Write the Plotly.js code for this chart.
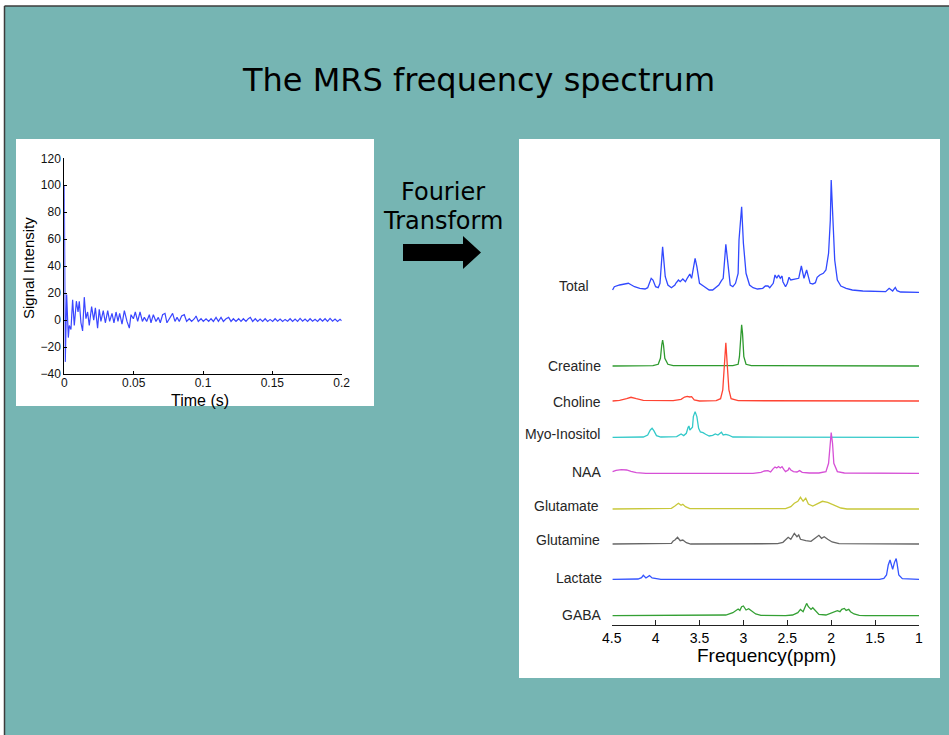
<!DOCTYPE html>
<html>
<head>
<meta charset="utf-8">
<script src="https://cdn.plot.ly/plotly-3.0.1.min.js"></script>
<style>
  html, body { margin: 0; padding: 0; background: #ffffff; }
  #chart { width: 949px; height: 735px; }
</style>
</head>
<body>
<div id="chart"></div>
<script>
// ---- Free induction decay (time domain) ----
const fidTime = [
  0, 0.0007, 0.0017, 0.0029, 0.0036, 0.0048, 0.0060, 0.0072, 0.0087, 0.0099,
  0.0108, 0.0120, 0.0132, 0.0144, 0.0156, 0.0168, 0.0180, 0.0197, 0.0212, 0.0224,
  0.0240, 0.0252, 0.0264, 0.0281, 0.0296, 0.0313, 0.0327, 0.0344, 0.0358, 0.0373,
  0.0387, 0.0399, 0.0416, 0.0433, 0.0452, 0.0469, 0.0481, 0.0498, 0.0512, 0.0529,
  0.0546, 0.0563, 0.0577, 0.0594, 0.0613, 0.0625, 0.0642, 0.0661, 0.0678, 0.0692,
  0.0709, 0.0726, 0.0740, 0.0757, 0.0781, 0.0798, 0.0813, 0.0829, 0.0846, 0.0865,
  0.0882, 0.0901, 0.0918, 0.0938, 0.0950, 0.0966, 0.0986, 0.1002, 0.1022, 0.1041,
  0.1058, 0.1075, 0.1094, 0.1111, 0.1130, 0.1147, 0.1166, 0.1185, 0.1202, 0.1219,
  0.1238, 0.1257, 0.1274, 0.1291, 0.1310, 0.1327, 0.1341, 0.1358, 0.1377, 0.1394,
  0.1412, 0.1430, 0.1448, 0.1466, 0.1484, 0.1502, 0.1520, 0.1538, 0.1556, 0.1574,
  0.1592, 0.1610, 0.1628, 0.1646, 0.1664, 0.1682, 0.1700, 0.1718, 0.1736, 0.1754,
  0.1772, 0.1790, 0.1808, 0.1826, 0.1844, 0.1862, 0.1880, 0.1898, 0.1916, 0.1934,
  0.1952, 0.1970, 0.1988, 0.2000
];
const fidSignal = [
  100, -31, 19, -13, -4, -7, 15, -4, 14, 6,
  14, -2, -8, 17, 1, 6, -4, 10, 0, 9,
  -6, 8, -1, 7, -2, 7, -1, 5, -2, 6,
  -1, 5, -3, 7, -1, -6, 4, 1, 6, -1,
  6, -1, 2, -1, 4, -2, 4, -1, 2, -2,
  4, 5, -2, 1, 5, -1, 2, -1, 3, 4,
  -1, 1, -1, 1, 3, -1, 1, -1, 1, -1,
  1, -1, 2, -1, 2, -1, 1, 2, -1, 1,
  -1, 1, -1, 1, -1, 1, 2, -1, 1, -1,
  0.8, -1, 1, -1, 0.5, -1, 1, -0.8, 0.8, -1,
  0.5, -0.8, 1, -1, 0.8, -1, 1.2, -0.8, 0.8, -1,
  1, -0.8, 0.6, -1, 1, -0.8, 1, -1, 1.2, -0.8,
  0.8, -1, 0.6, -0.5
];
const fidTicksX = [0, 0.05, 0.1, 0.15, 0.2];

// ---- Metabolite spectra (chemical shift in ppm, intensity) ----
const totalPpm = [
  4.49, 4.47, 4.41, 4.35, 4.31, 4.28, 4.24, 4.18, 4.12, 4.09,
  4.05, 4.03, 4.00, 3.97, 3.95, 3.92, 3.89, 3.86, 3.82, 3.78,
  3.77, 3.74, 3.72, 3.69, 3.66, 3.64, 3.61, 3.59, 3.58, 3.55,
  3.53, 3.50, 3.46, 3.42, 3.39, 3.35, 3.31, 3.28, 3.25, 3.23,
  3.20, 3.17, 3.15, 3.12, 3.09, 3.06, 3.05, 3.02, 3.00, 2.97,
  2.93, 2.89, 2.84, 2.78, 2.75, 2.72, 2.70, 2.66, 2.64, 2.62,
  2.60, 2.58, 2.56, 2.55, 2.52, 2.50, 2.48, 2.46, 2.43, 2.40,
  2.37, 2.34, 2.33, 2.31, 2.28, 2.26, 2.24, 2.21, 2.18, 2.16,
  2.13, 2.09, 2.06, 2.03, 2.01, 2.00, 1.98, 1.96, 1.93, 1.89,
  1.83, 1.76, 1.64, 1.49, 1.38, 1.34, 1.32, 1.30, 1.27, 1.25,
  1.21, 1.00
];
const totalInt = [
  2.3, 5.6, 7.3, 8.3, 9.0, 7.6, 5.6, 4.0, 3.3, 4.6,
  14, 12.3, 5.6, 4.6, 9.0, 45.6, 15.6, 7.3, 4.6, 7.3,
  9.0, 12.3, 10.6, 13.3, 10.6, 14.0, 18.3, 14.0, 19.0, 34.0,
  25.6, 9.0, 6.6, 4.6, 2.3, 2.3, 5.6, 7.3, 11.6, 14.0,
  48.0, 22.3, 7.3, 5.6, 9.0, 19.0, 52.3, 85.6, 49.0, 19.0,
  7.3, 4.6, 3.3, 4.0, 6.3, 6.3, 4.6, 9.0, 17.3, 14.0,
  17.3, 14.0, 16.3, 10.6, 5.6, 9.0, 15.0, 12.3, 13.0, 13.3,
  14.0, 26.3, 20.6, 14.0, 22.3, 15.6, 9.0, 8.3, 9.6, 15.0,
  17.3, 19.0, 22.3, 39.0, 72.3, 112.3, 72.3, 32.3, 12.3, 6.3,
  4.0, 2.3, 1.3, 0.6, 0.6, 4.0, 3.0, 1.3, 4.9, 1.6,
  0.3, 0
];
const creatinePpm = [4.49, 4.03, 3.97, 3.945, 3.93, 3.92, 3.91, 3.895, 3.86, 3.80,
  3.12, 3.06, 3.045, 3.03, 3.02, 3.01, 2.995, 2.97, 2.91, 1.00];
const creatineInt = [0, 0.3, 1.7, 7.7, 21, 26, 21, 7.7, 1.7, 0.3,
  0.3, 1.7, 9.3, 32.7, 41.3, 32.7, 9.3, 1.7, 0.3, 0];
const cholinePpm = [4.49, 4.41, 4.33, 4.28, 4.22, 4.14, 3.80, 3.71, 3.67, 3.64,
  3.61, 3.59, 3.56, 3.50, 3.31, 3.26, 3.235, 3.215, 3.20, 3.185,
  3.165, 3.14, 3.06, 1.00];
const cholineInt = [0, 0.7, 2.3, 3.7, 2.3, 0.7, 0.3, 1.7, 4.0, 4.7,
  4.0, 4.3, 1.0, 0, 0.3, 2.3, 11, 37.7, 58.3, 37.7,
  11, 2.3, 0.3, 0];
const myoPpm = [4.49, 4.14, 4.09, 4.06, 4.04, 4.02, 3.99, 3.94, 3.76, 3.73,
  3.71, 3.68, 3.65, 3.63, 3.62, 3.61, 3.58, 3.57, 3.55, 3.53,
  3.51, 3.49, 3.46, 3.43, 3.39, 3.35, 3.32, 3.29, 3.25, 3.23,
  3.20, 3.17, 3.12, 1.00];
const myoInt = [0, 0.3, 2.3, 7.3, 9.0, 6.7, 1.7, 0.3, 0.7, 2.3,
  3.3, 1.7, 4.0, 10, 11.3, 7.3, 10, 20.7, 25.7, 20.7,
  9.0, 5.3, 4.7, 3.0, 1.3, 2.0, 3.3, 2.3, 5.0, 2.3,
  3.0, 2.3, 0.3, 0];
const naaPpm = [4.49, 4.45, 4.39, 4.33, 4.28, 4.22, 4.11,
  2.89, 2.80, 2.76, 2.72, 2.69, 2.66, 2.64, 2.62, 2.60, 2.58,
  2.56, 2.54, 2.52, 2.49, 2.48, 2.46, 2.43, 2.39, 2.36, 2.33,
  2.25, 2.14, 2.06, 2.03, 2.015, 2.00, 1.985, 1.97, 1.93, 1.85,
  1.00];
const naaInt = [1.7, 3.0, 3.7, 3.3, 2.0, 0.7, 0,
  0, 1.0, 2.3, 2.7, 1.3, 4.7, 6.3, 5.3, 6.7, 5.3,
  6.7, 4.0, 1.7, 3.3, 5.7, 3.3, 1.7, 1.3, 2.7, 1.0,
  0.3, 0.3, 1.7, 10, 30, 40.7, 30, 10, 1.7, 0.3,
  0];
const glutamatePpm = [4.49, 3.88, 3.82, 3.78, 3.76, 3.74, 3.71, 3.69, 3.66, 3.61,
  2.52, 2.46, 2.42, 2.38, 2.35, 2.32, 2.29, 2.26, 2.21, 2.16,
  2.10, 2.04, 1.97, 1.89, 1.82, 1.00];
const glutamateInt = [0, 0, 0.7, 3.0, 4.0, 5.7, 3.7, 4.7, 2.3, 0.3,
  0.3, 2.3, 5.7, 7.7, 11.7, 7.7, 10.7, 5.0, 3.0, 5.0,
  7.7, 6.7, 3.7, 1.0, 0, 0];
const glutaminePpm = [4.49, 3.88, 3.82, 3.80, 3.78, 3.75, 3.72, 3.69, 3.65, 3.60,
  2.61, 2.55, 2.52, 2.49, 2.46, 2.42, 2.39, 2.37, 2.35, 2.29,
  2.23, 2.19, 2.16, 2.14, 2.11, 2.08, 2.04, 1.99, 1.91, 1.00];
const glutamineInt = [0, 0, 0.7, 3.0, 4.0, 6.7, 3.3, 4.0, 1.3, 0,
  0.3, 1.7, 4.7, 6.7, 4.7, 10.7, 7.3, 9.0, 4.7, 3.3,
  2.7, 5.7, 7.3, 8.7, 5.7, 7.3, 4.7, 2.0, 0.3, 0];
const lactatePpm = [4.49, 4.26, 4.20, 4.16, 4.14, 4.11, 4.07, 4.04, 3.99, 3.94,
  1.45, 1.40, 1.37, 1.35, 1.33, 1.31, 1.30, 1.28, 1.26, 1.25,
  1.23, 1.19, 1.00];
const lactateInt = [0, 0, 0.3, 1.7, 4.0, 1.3, 3.7, 1.3, 0.3, 0,
  0, 1.0, 4.3, 14.3, 19.3, 12.0, 10.0, 16.7, 20.7, 16.0,
  4.3, 0.7, 0];
const gabaPpm = [4.49, 3.27, 3.20, 3.12, 3.08, 3.06, 3.04, 3.02, 3.00, 2.97,
  2.94, 2.91, 2.86, 2.80, 2.52, 2.44, 2.38, 2.35, 2.32, 2.30,
  2.28, 2.26, 2.23, 2.21, 2.17, 2.14, 2.06, 1.99, 1.95, 1.93,
  1.90, 1.88, 1.85, 1.83, 1.80, 1.78, 1.74, 1.68, 1.61, 1.00];
const gabaInt = [0, 0, 0.7, 3.0, 5.7, 6.7, 5.3, 9.0, 9.7, 5.7,
  7.0, 4.7, 1.7, 0.3, 0, 0.7, 3.0, 6.3, 4.0, 8.3,
  12.3, 9.0, 6.3, 8.0, 4.0, 1.3, 0.7, 3.0, 4.7, 5.0,
  4.0, 6.3, 7.3, 5.3, 6.3, 4.0, 1.7, 0.3, 0, 0];

const metaboliteNames = ['Total', 'Creatine', 'Choline', 'Myo-Inositol', 'NAA',
  'Glutamate', 'Glutamine', 'Lactate', 'GABA'];
const ppmTicks = [4.5, 4, 3.5, 3, 2.5, 2, 1.5, 1];

// ---- styling / layout constants ----
const W = 949, H = 735;
const px = x => x / W;          // pixel column -> paper x
const py = y => 1 - y / H;      // pixel row -> paper y
const SANS = 'Liberation Sans, Arial, Helvetica, sans-serif';
const SLIDE = 'DejaVu Sans, Verdana, sans-serif';
const TEAL = '#76b5b3';

const series = [
  [totalPpm, totalInt], [creatinePpm, creatineInt], [cholinePpm, cholineInt],
  [myoPpm, myoInt], [naaPpm, naaInt], [glutamatePpm, glutamateInt],
  [glutaminePpm, glutamineInt], [lactatePpm, lactateInt], [gabaPpm, gabaInt]
];
const lineColors = ['#3149ff', '#2e9a2e', '#ff4433', '#33c9c9', '#d650d6',
  '#c8c83a', '#666666', '#3454ff', '#34a034'];
// vertical stacking of each spectrum (plot units = pixels above the axis)
const stackOffset = [332.7, 259, 224, 187.7, 151.7, 116, 81, 45.7, 9.3];
const labelRow = [286, 366, 402, 434, 472, 506, 540, 578, 615];
const labelRight = [590, 602, 602, 601, 602, 600, 601, 603, 603];

const traces = [{
  x: fidTime, y: fidSignal, xaxis: 'x', yaxis: 'y',
  type: 'scatter', mode: 'lines',
  line: { color: '#3a46ff', width: 1.2 },
  hoverinfo: 'skip'
}];
series.forEach(([xs, ys], i) => {
  traces.push({
    x: xs, y: ys.map(v => v + stackOffset[i]),
    xaxis: 'x2', yaxis: 'y2', type: 'scatter', mode: 'lines',
    line: { color: lineColors[i], width: 1.3 },
    name: metaboliteNames[i], hoverinfo: 'skip'
  });
});

const axisBase = {
  showline: true, linecolor: '#000', linewidth: 1,
  ticks: 'inside', tickcolor: '#000', tickwidth: 1,
  showgrid: false, zeroline: false, fixedrange: true
};

const shapes = [
  // slide background and its border
  { type: 'rect', xref: 'paper', yref: 'paper', layer: 'below',
    x0: px(5), x1: px(949), y0: py(735), y1: py(6),
    fillcolor: TEAL, line: { width: 0 } },
  { type: 'line', xref: 'paper', yref: 'paper', layer: 'below',
    x0: px(4.5), x1: px(4.5), y0: py(735), y1: py(6),
    line: { color: '#3c3c3c', width: 1.5 } },
  { type: 'line', xref: 'paper', yref: 'paper', layer: 'below',
    x0: px(4.5), x1: px(949), y0: py(6), y1: py(6),
    line: { color: '#3c3c3c', width: 1.5 } },
  // white panels behind both charts
  { type: 'rect', xref: 'paper', yref: 'paper', layer: 'below',
    x0: px(16), x1: px(374), y0: py(406), y1: py(139),
    fillcolor: '#ffffff', line: { width: 0 } },
  { type: 'rect', xref: 'paper', yref: 'paper', layer: 'below',
    x0: px(519), x1: px(940), y0: py(678), y1: py(139),
    fillcolor: '#ffffff', line: { width: 0 } },
  // block arrow
  { type: 'path', xref: 'paper', yref: 'paper', layer: 'above',
    path: 'M' + [[403, 244], [463, 244], [463, 236], [481, 252.5], [463, 269], [463, 261], [403, 261]]
      .map(p => px(p[0]) + ',' + py(p[1])).join(' L') + ' Z',
    fillcolor: '#000', line: { width: 0 } }
];

const text = (t, x, y, size, family, extra) => Object.assign({
  text: t, x: px(x), y: py(y), xref: 'paper', yref: 'paper',
  xanchor: 'center', yanchor: 'middle', showarrow: false, borderpad: 0,
  font: { family: family, size: size, color: '#000' }
}, extra || {});

const annotations = [
  text('Fourier', 443, 192, 24, SLIDE),
  text('Transform', 443, 221, 24, SLIDE),
  // axis titles
  text('Time (s)', 200, 400, 16, SANS),
  text('Signal Intensity', 28, 268, 15, SANS, { textangle: -90 }),
  text('Frequency(ppm)', 766.5, 655, 19, SANS)
];
metaboliteNames.forEach((name, i) => {
  annotations.push({
    text: name, x: px(labelRight[i]), y: py(labelRow[i]),
    xref: 'paper', yref: 'paper', xanchor: 'right', yanchor: 'middle',
    showarrow: false, borderpad: 0,
    font: { family: SANS, size: 14, color: '#262626' }
  });
});

const layout = {
  width: W, height: H,
  margin: { l: 0, r: 0, t: 0, b: 0, pad: 0 },
  paper_bgcolor: '#ffffff', plot_bgcolor: 'rgba(0,0,0,0)',
  showlegend: false, hovermode: false,
  title: {
    text: 'The MRS frequency spectrum',
    font: { family: SLIDE, size: 32, color: '#000' },
    xref: 'paper', yref: 'paper', x: px(479), xanchor: 'center',
    y: py(80), yanchor: 'middle'
  },
  xaxis: Object.assign({}, axisBase, {
    domain: [px(64.3), px(341.7)], range: [0, 0.2], anchor: 'y',
    tickvals: fidTicksX, ticklen: 3, ticklabelstandoff: -2,
    tickfont: { family: SANS, size: 12, color: '#111' }
  }),
  yaxis: Object.assign({}, axisBase, {
    domain: [py(374), py(158.3)], range: [-40, 120], anchor: 'x',
    tick0: 0, dtick: 20, ticklen: 3,
    tickfont: { family: SANS, size: 12, color: '#111' }
  }),
  xaxis2: Object.assign({}, axisBase, {
    domain: [px(611.7), px(919)], range: [4.5, 1], anchor: 'y2',
    tickvals: ppmTicks, ticklen: 5, linecolor: '#222', tickcolor: '#222',
    tickfont: { family: SANS, size: 14, color: '#000' }
  }),
  yaxis2: {
    domain: [py(625), py(170)], range: [0, 455], anchor: 'x2',
    visible: false, fixedrange: true
  },
  shapes: shapes,
  annotations: annotations
};

Plotly.newPlot('chart', traces, layout, { staticPlot: true, displayModeBar: false });
</script>
</body>
</html>
